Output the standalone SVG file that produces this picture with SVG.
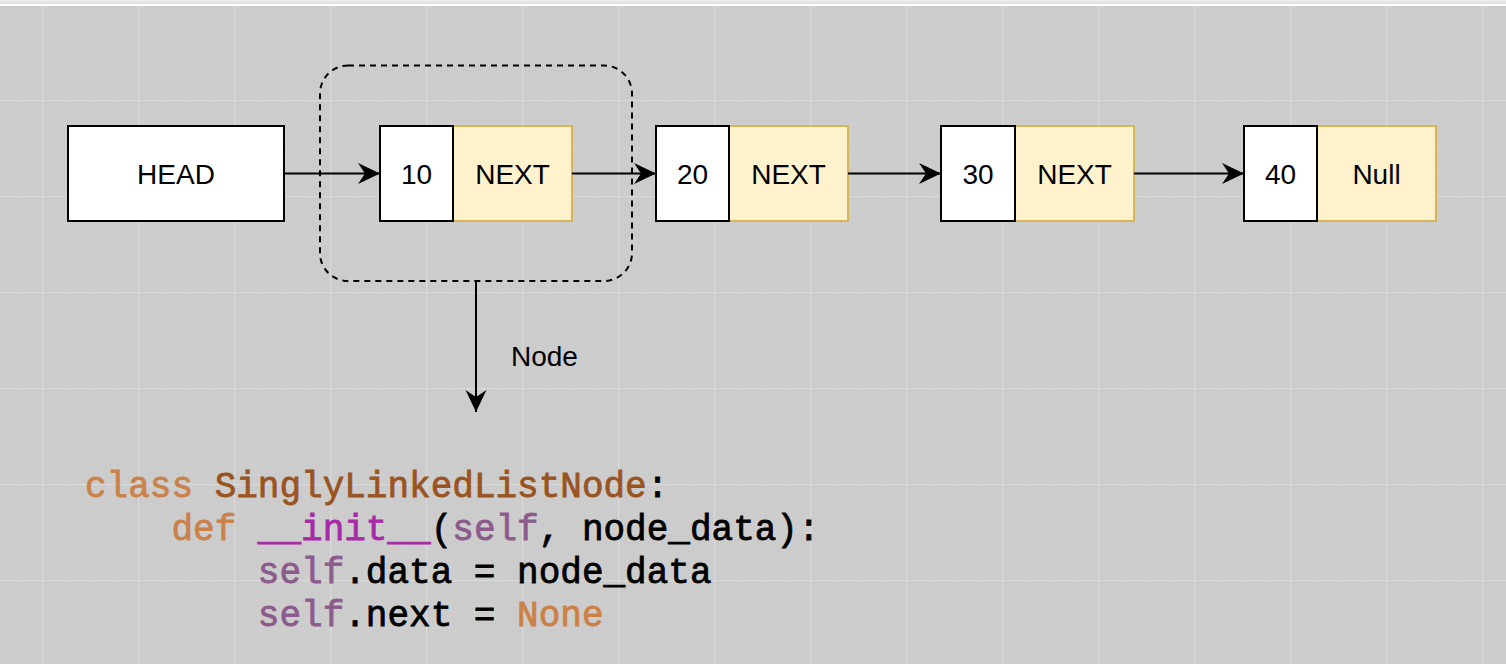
<svg xmlns="http://www.w3.org/2000/svg" width="1506" height="664" viewBox="0 0 1506 664">
  <defs>
    <linearGradient id="topbar" x1="0" y1="0" x2="0" y2="1">
      <stop offset="0" stop-color="#efefef"/>
      <stop offset="1" stop-color="#dedede"/>
    </linearGradient>
    <!-- canvas grid: minor lines every 24px, major every 96px -->
    <pattern id="grid" x="42" y="4" width="96" height="96" patternUnits="userSpaceOnUse">
      <rect width="96" height="96" fill="#cccccc"/>
      <g stroke="#cfcfcf" stroke-width="1">
        <path d="M24.5,0V96M48.5,0V96M72.5,0V96M0,24.5H96M0,48.5H96M0,72.5H96"/>
      </g>
      <g stroke="#d9d9d9" stroke-width="1.5">
        <path d="M0.5,0V96M0,0.5H96"/>
      </g>
    </pattern>
    <marker id="arrow" markerUnits="userSpaceOnUse" markerWidth="24" markerHeight="22" refX="22" refY="10.5" orient="auto">
      <path d="M0,0 L22,10.5 L0,21 L7,10.5 Z" fill="#000"/>
    </marker>
    <style>
      .box { fill: #ffffff; stroke: #000000; stroke-width: 2; }
      .ptr { fill: #fff2cc; stroke: #d6b656; stroke-width: 2; }
      .lbl { font-family: "Liberation Sans", Arial, sans-serif; font-size: 28px; fill: #000; text-anchor: middle; }
      .edge { stroke: #000; stroke-width: 2; fill: none; marker-end: url(#arrow); }
      .code { font-family: "Liberation Mono", "Courier New", monospace; font-size: 36px; fill: #000; stroke: #000; stroke-width: 0.8; white-space: pre; }
      .kw { fill: #c9824a; stroke: #c9824a; }
      .cls { fill: #9a5421; stroke: #9a5421; }
      .magic { fill: #a82aa6; stroke: #a82aa6; }
      .slf { fill: #8c5b8c; stroke: #8c5b8c; }
      .const { fill: #cb8045; stroke: #cb8045; }
    </style>
  </defs>

  <!-- background -->
  <rect x="0" y="0" width="1506" height="664" fill="url(#grid)"/>
  <rect x="0" y="0" width="1506" height="4" fill="url(#topbar)"/>
  <rect x="0" y="4" width="1506" height="2" fill="#ffffff"/>

  <!-- grouping outline around the first list element -->
  <g id="node-group">
    <rect x="320" y="65.5" width="312" height="215.5" rx="28" ry="28" fill="none" stroke="#000" stroke-width="2" stroke-dasharray="6 5"/>
  </g>

  <g id="head">
    <rect class="box" x="68" y="126" width="216" height="95"/>
    <text class="lbl" x="176" y="184">HEAD</text>
  </g>

  <g id="node10">
    <rect class="ptr" x="453" y="126" width="119" height="95"/>
    <rect class="box" x="380" y="126" width="73" height="95"/>
    <text class="lbl" x="416.5" y="184">10</text>
    <text class="lbl" x="512.5" y="184">NEXT</text>
  </g>

  <g id="node20">
    <rect class="ptr" x="729" y="126" width="119" height="95"/>
    <rect class="box" x="656" y="126" width="73" height="95"/>
    <text class="lbl" x="692.5" y="184">20</text>
    <text class="lbl" x="788.5" y="184">NEXT</text>
  </g>

  <g id="node30">
    <rect class="ptr" x="1015" y="126" width="119" height="95"/>
    <rect class="box" x="941" y="126" width="74" height="95"/>
    <text class="lbl" x="978" y="184">30</text>
    <text class="lbl" x="1074.5" y="184">NEXT</text>
  </g>

  <g id="node40">
    <rect class="ptr" x="1317" y="126" width="119" height="95"/>
    <rect class="box" x="1244" y="126" width="73" height="95"/>
    <text class="lbl" x="1280.5" y="184">40</text>
    <text class="lbl" x="1376.5" y="184">Null</text>
  </g>

  <g id="connectors">
    <path class="edge" d="M284,173.5 H380"/>
    <path class="edge" d="M572,173.5 H656"/>
    <path class="edge" d="M848,173.5 H941"/>
    <path class="edge" d="M1134,173.5 H1244"/>
    <path class="edge" d="M476,281 V412"/>
    <text x="511" y="366" font-family="Liberation Sans, Arial, sans-serif" font-size="28" fill="#000">Node</text>
  </g>

  <!-- Python class definition -->
  <g id="code">
    <text class="code" x="85" y="497"><tspan class="kw">class</tspan> <tspan class="cls">SinglyLinkedListNode</tspan>:</text>
    <text class="code" x="85" y="540">    <tspan class="kw">def</tspan> <tspan class="magic">__init__</tspan>(<tspan class="slf">self</tspan>, node_data):</text>
    <text class="code" x="85" y="583">        <tspan class="slf">self</tspan>.data = node_data</text>
    <text class="code" x="85" y="626">        <tspan class="slf">self</tspan>.next = <tspan class="const">None</tspan></text>
  </g>
</svg>
